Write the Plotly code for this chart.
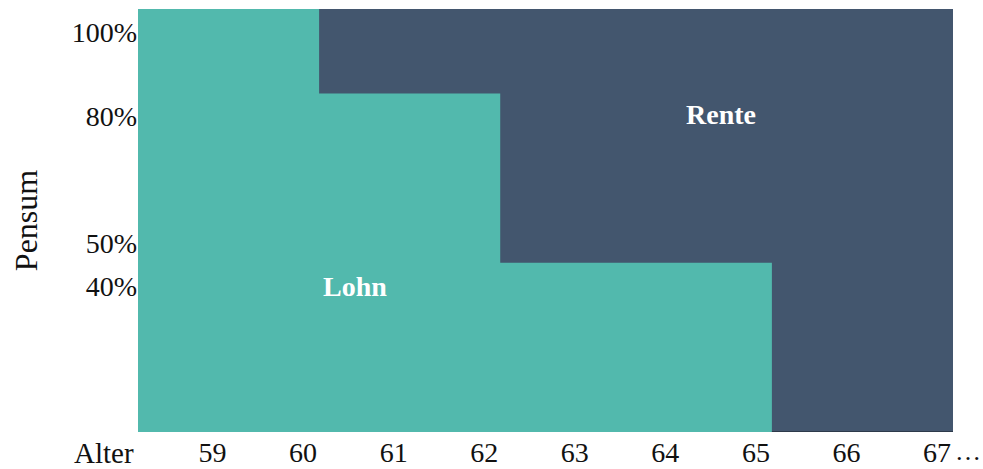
import plotly.graph_objects as go

# Age (end of each one-year interval) and share of salary (Lohn) in percent
ages = [59, 60, 61, 62, 63, 64, 65, 66, 67]
lohn_pct = [100, 100, 80, 80, 40, 40, 40, 0, 0]
total_pct = 100

y_ticks = [40, 50, 80, 100]
y_labels = ["40%", "50%", "80%", "100%"]
x_labels = [str(a) for a in ages]

TEAL = "#52b9ad"
SLATE = "#43566e"
FONT = "Liberation Serif"

# step outline: each age a covers the interval [a-1, a]
step_x = [a - 1 for a in ages] + [ages[-1]]
step_lohn = lohn_pct + [lohn_pct[-1]]
step_total = [total_pct] * len(step_x)

fig = go.Figure()

# Rente: full height in slate, Lohn drawn on top of it
fig.add_trace(go.Scatter(
    x=step_x, y=step_total, mode="lines", line=dict(width=0, shape="hv"),
    fill="tozeroy", fillcolor=SLATE, hoverinfo="skip", showlegend=False,
))
fig.add_trace(go.Scatter(
    x=step_x, y=step_lohn, mode="lines", line=dict(width=0, shape="hv"),
    fill="tozeroy", fillcolor=TEAL, hoverinfo="skip", showlegend=False,
))

# thin darker base edge under the part where only Rente remains
zero_start = next(i for i, v in enumerate(lohn_pct) if v == 0)
fig.add_trace(go.Scatter(
    x=[ages[zero_start] - 1, ages[-1]], y=[0, 0], mode="lines",
    line=dict(color="#26313f", width=1.5), hoverinfo="skip", showlegend=False,
))

fig.update_layout(
    width=983, height=469,
    margin=dict(l=138, r=30, t=9, b=37, autoexpand=False),
    paper_bgcolor="white", plot_bgcolor="white",
    font=dict(family=FONT, size=28, color="#111111"),
    showlegend=False,
    xaxis=dict(
        range=[ages[0] - 1, ages[-1]], tickmode="array",
        tickvals=ages, ticktext=x_labels, ticklabelshift=-16,
        ticklabelstandoff=1, automargin=False,
        showgrid=False, zeroline=False, showline=False, ticks="",
        tickfont=dict(family=FONT, size=28),
    ),
    yaxis=dict(
        range=[0, total_pct], tickmode="array",
        tickvals=y_ticks, ticktext=y_labels, ticklabelshift=23,
        ticklabelstandoff=0, automargin=False,
        showgrid=False, zeroline=False, showline=False, ticks="",
        tickfont=dict(family=FONT, size=28),
        title=dict(text="Pensum", font=dict(family=FONT, size=32), standoff=24),
    ),
    annotations=[
        dict(text="<b>Lohn</b>", x=60.4, y=34.5, xref="x", yref="y", showarrow=False,
             font=dict(family=FONT, size=28, color="white"), xanchor="center", yanchor="middle"),
        dict(text="<b>Rente</b>", x=64.44, y=75, xref="x", yref="y", showarrow=False,
             font=dict(family=FONT, size=28, color="white"), xanchor="center", yanchor="middle"),
        dict(text="Alter", x=0, y=0, xref="paper", yref="paper", showarrow=False,
             xanchor="right", yanchor="top", xshift=-2, yshift=-3,
             font=dict(family=FONT, size=29)),
        dict(text="…", x=1, y=0, xref="paper", yref="paper", showarrow=False,
             xanchor="left", yanchor="top", xshift=0, yshift=-3,
             font=dict(family=FONT, size=26)),
    ],
)

fig.write_html("out.html")
